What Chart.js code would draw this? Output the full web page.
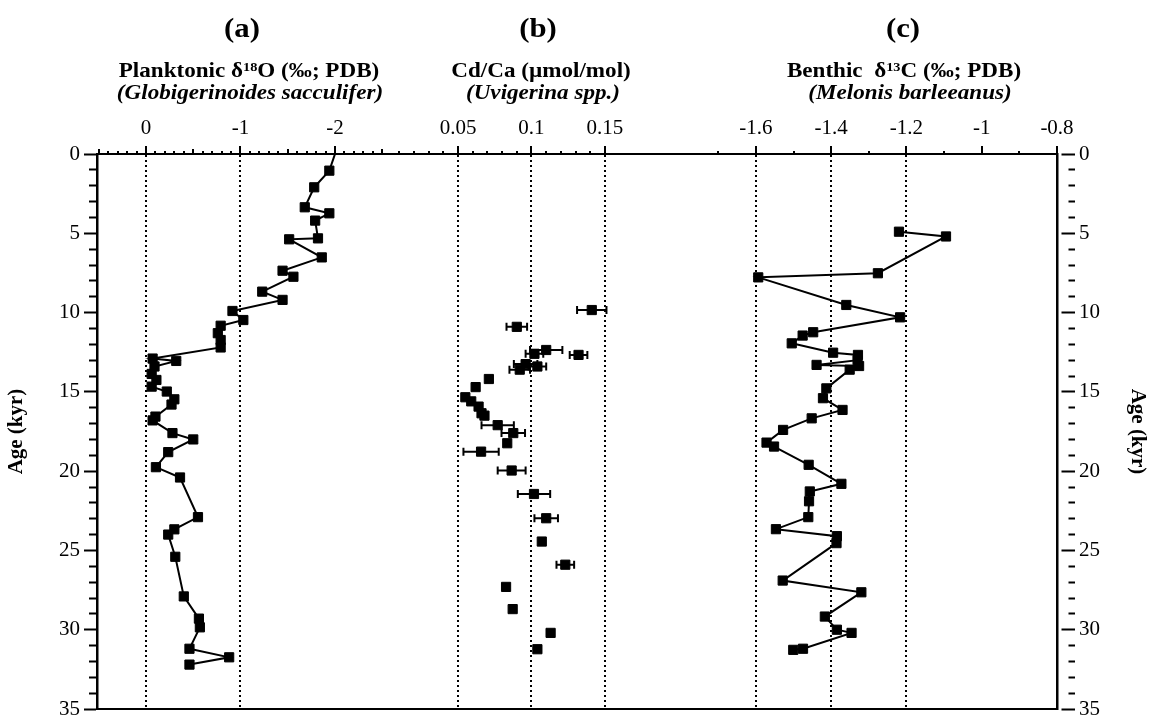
<!DOCTYPE html>
<html>
<head>
<meta charset="utf-8">
<title>Planktonic d18O, Cd/Ca and benthic d13C vs age</title>
<script src="https://cdn.jsdelivr.net/npm/chart.js@4.4.0/dist/chart.umd.min.js"></script>
<style>
  body { margin: 0; background: #fff; }
  #wrap { position: relative; width: 1151px; height: 727px; overflow: hidden;
          font-family: 'Liberation Serif', 'DejaVu Serif', serif; color: #000; }
  #wrap canvas { position: absolute; top: 0; }
  .head { position: absolute; white-space: nowrap; font-weight: bold;
          transform: translateX(-50%) scaleX(1.1); }
  .tag { top: 12px; font-size: 28px; line-height: 32px; }
  .sub { font-size: 21px; line-height: 24px; }
  .l1 { top: 58px; }
  .l2 { top: 80px; font-style: italic; }
  sup { font-size: 0.62em; vertical-align: 0.45em; line-height: 0; }
</style>
</head>
<body>
<div id="wrap">
  <canvas id="grafica-a" width="390" height="727" style="left:0px"></canvas>
  <canvas id="grafica-b" width="310" height="727" style="left:390px"></canvas>
  <canvas id="grafica-c" width="451" height="727" style="left:700px"></canvas>

  <div class="head tag" style="left:242px">(a)</div>
  <div class="head sub l1" style="left:249px">Planktonic δ<sup>18</sup>O (‰; PDB)</div>
  <div class="head sub l2" style="left:250px">(Globigerinoides sacculifer)</div>

  <div class="head tag" style="left:538px">(b)</div>
  <div class="head sub l1" style="left:541px">Cd/Ca (µmol/mol)</div>
  <div class="head sub l2" style="left:543px">(Uvigerina spp.)</div>

  <div class="head tag" style="left:903px">(c)</div>
  <div class="head sub l1" style="left:904px">Benthic&nbsp; δ<sup>13</sup>C (‰; PDB)</div>
  <div class="head sub l2" style="left:910px">(Melonis barleeanus)</div>
</div>

<script>
// (a) planktonic d18O, G. sacculifer
const ageA = [0, 1.05, 2.1, 3.36, 3.74, 4.2, 5.32, 5.38, 6.52, 7.36, 7.74, 8.68, 9.2, 9.9, 10.47,
  10.83, 11.3, 11.73, 12.2, 12.9, 13.05, 13.4, 13.87, 14.25, 14.67, 14.98, 15.47, 15.8, 16.56,
  16.8, 17.6, 18.0, 18.8, 19.75, 20.4, 22.9, 23.67, 24.0, 25.4, 27.9, 29.3, 29.85, 31.2, 31.74, 32.2];
const d18O = [-2.0, -1.94, -1.78, -1.68, -1.94, -1.79, -1.82, -1.515, -1.86, -1.445, -1.56, -1.23,
  -1.445, -0.915, -1.03, -0.79, -0.76, -0.79, -0.79, -0.07, -0.32, -0.09, -0.06, -0.11, -0.06,
  -0.22, -0.30, -0.27, -0.10, -0.07, -0.28, -0.50, -0.235, -0.105, -0.36, -0.55, -0.30, -0.235,
  -0.31, -0.40, -0.56, -0.57, -0.46, -0.88, -0.46];

// (b) Cd/Ca, Uvigerina spp. (with +/- error)
const ageB = [9.84, 10.9, 12.36, 12.6, 12.67, 13.25, 13.4, 13.6, 14.19, 14.7, 15.34, 15.6, 15.93,
  16.35, 16.5, 17.1, 17.6, 18.24, 18.77, 19.96, 21.44, 22.97, 24.44, 25.9, 27.3, 28.7, 30.2, 31.23];
const cdca = [0.141, 0.090, 0.110, 0.102, 0.132, 0.096, 0.104, 0.092, 0.071, 0.062, 0.055, 0.059,
  0.064, 0.066, 0.068, 0.077, 0.0876, 0.0835, 0.0657, 0.0865, 0.1017, 0.110, 0.107, 0.123, 0.0827,
  0.0872, 0.113, 0.104];
const errB = [0.010, 0.007, 0.011, 0.006, 0.006, 0.008, 0.006, 0.007, 0, 0, 0, 0, 0, 0, 0, 0.011,
  0.008, 0, 0.012, 0.0095, 0.011, 0.008, 0, 0.006, 0, 0, 0, 0];

// (c) benthic d13C, M. barleeanus
const ageC = [4.9, 5.2, 7.52, 7.78, 9.52, 10.3, 11.24, 11.45, 11.94, 12.53, 12.67, 13.0, 13.3,
  13.37, 13.6, 14.78, 15.4, 16.14, 16.67, 17.4, 18.2, 18.45, 19.6, 20.8, 21.28, 21.9, 22.9, 23.66,
  24.1, 24.54, 26.9, 27.64, 29.17, 30.0, 30.2, 31.2, 31.27];
const d13C = [-1.22, -1.095, -1.276, -1.594, -1.36, -1.217, -1.448, -1.476, -1.505, -1.395, -1.329,
  -1.33, -1.439, -1.326, -1.351, -1.413, -1.422, -1.37, -1.452, -1.528, -1.572, -1.552, -1.46,
  -1.373, -1.457, -1.459, -1.461, -1.547, -1.385, -1.386, -1.529, -1.32, -1.417, -1.385, -1.346,
  -1.475, -1.501];

// tick labels and dotted reference lines
const ageLabels = [0, 5, 10, 15, 20, 25, 30, 35];
const labelsA = [0, -1, -2];
const gridA = [0, -1];
const labelsB = [0.05, 0.1, 0.15];
const gridB = [0.05, 0.1, 0.15];
const labelsC = [-1.6, -1.4, -1.2, -1, -0.8];
const gridC = [-1.6, -1.4, -1.2];

Chart.defaults.font.family = "'Liberation Serif', 'DejaVu Serif', serif";
Chart.defaults.color = '#000';

function near(a, b) { return Math.abs(a - b) < 1e-6; }
function inList(v, list) { return list.some(t => near(t, v)); }
function steps(from, to, step) {
  const out = [];
  const n = Math.round((to - from) / step);
  for (let i = 0; i <= n; i++) out.push(Math.round((from + i * step) * 1000) / 1000);
  return out;
}

// all ticks share one length; shorter ones are made by dashing the outer part away
function tickDash(len, majors, majorLen, mids, midLen, shortLen) {
  const dash = s => s >= len ? [] : [0, len - s, s, 200];
  return ctx => {
    if (!ctx.tick) return [];
    const v = ctx.tick.value;
    if (inList(v, majors)) return dash(majorLen);
    return dash(inList(v, mids) ? midLen : shortLen);
  };
}

function topAxis(min, max, minor, labels, grid, mids) {
  return {
    type: 'linear',
    position: 'top',
    min: min,
    max: max,
    afterBuildTicks: s => { s.ticks = minor.map(v => ({ value: v })); },
    afterFit: s => { s.height = 40; },
    ticks: {
      autoSkip: false,
      maxRotation: 0,
      padding: 5,
      font: { size: 21 },
      callback: v => inList(v, labels) ? String(v) : ''
    },
    grid: {
      color: c => (c.tick && inList(c.tick.value, grid)) ? '#000' : 'rgba(0,0,0,0)',
      lineWidth: 2,
      tickLength: 8,
      tickColor: '#000',
      tickWidth: 2,
      tickBorderDash: tickDash(8, labels, 8, mids, 5, 3)
    },
    border: { display: true, color: '#000', width: 2, dash: [2, 3] }
  };
}

function ageAxis(pos) {
  const left = pos === 'left';
  const len = left ? 13 : 18;
  return {
    type: 'linear',
    position: pos,
    display: pos !== 'none',
    reverse: true,
    min: 0,
    max: 35,
    afterBuildTicks: s => { s.ticks = steps(0, 35, 1).map(v => ({ value: v })); },
    afterFit: s => { s.width = left ? 97 : 94; },
    ticks: {
      autoSkip: false,
      padding: 4,
      font: { size: 21 },
      callback: v => inList(v, ageLabels) ? String(v) : ''
    },
    grid: {
      drawOnChartArea: false,
      tickLength: len,
      tickColor: '#000',
      tickWidth: 2,
      tickBorderDash: tickDash(len, ageLabels, left ? 13 : 15, [], 7, 8)
    },
    border: { display: true, color: '#000', width: 2.5 },
    title: {
      display: true,
      text: 'Age (kyr)',
      font: { size: 21, weight: 'bold' },
      padding: { top: left ? 4 : 1, bottom: 0 }
    }
  };
}

function bottomLine() {
  return {
    type: 'linear',
    position: 'bottom',
    ticks: { display: false },
    grid: { display: false },
    border: { display: true, color: '#000', width: 2 },
    afterFit: s => { s.height = 18; }
  };
}

// horizontal analytical error bars for panel (b)
const errorBars = {
  id: 'errorBars',
  beforeDatasetsDraw(chart, args, opts) {
    if (!opts.errors) return;
    const { ctx, scales } = chart;
    const x = scales.x, y = scales.y;
    ctx.save();
    ctx.strokeStyle = '#000';
    ctx.lineWidth = 2;
    opts.errors.forEach((e, i) => {
      if (!e) return;
      const py = y.getPixelForValue(opts.ages[i]);
      const x1 = x.getPixelForValue(opts.values[i] - e);
      const x2 = x.getPixelForValue(opts.values[i] + e);
      ctx.beginPath();
      ctx.moveTo(x1, py); ctx.lineTo(x2, py);
      ctx.moveTo(x1, py - 4); ctx.lineTo(x1, py + 4);
      ctx.moveTo(x2, py - 4); ctx.lineTo(x2, py + 4);
      ctx.stroke();
    });
    ctx.restore();
  }
};

function baseOptions(scales, extraPlugins) {
  return {
    responsive: false,
    animation: false,
    events: [],
    layout: { autoPadding: false, padding: { top: 114, left: 0, right: 0, bottom: 0 } },
    scales: scales,
    plugins: Object.assign({ legend: { display: false }, tooltip: { enabled: false } }, extraPlugins || {})
  };
}

const pointStyle = {
  pointStyle: 'rect',
  pointBackgroundColor: '#000',
  pointBorderColor: '#000',
  pointBorderWidth: 1
};

// panel (a): values grow more negative to the right
new Chart(document.getElementById('grafica-a').getContext('2d'), {
  type: 'line',
  data: {
    datasets: [Object.assign({
      label: 'Planktonic d18O',
      data: ageA.map((a, i) => ({ x: d18O[i], y: a })),
      borderColor: '#000',
      borderWidth: 2,
      tension: 0,
      pointRadius: c => c.dataIndex === 0 ? 0 : 6.5,
      xAxisID: 'x',
      yAxisID: 'y'
    }, pointStyle)]
  },
  options: baseOptions({
    x: Object.assign(topAxis(-2.582, 0.5185, steps(-2.5, 0.5, 0.1), labelsA, gridA, [-0.5, -1.5, -2.5, 0.5]), { reverse: true }),
    y: ageAxis('left'),
    xb: bottomLine()
  })
});

// panel (b)
new Chart(document.getElementById('grafica-b').getContext('2d'), {
  type: 'scatter',
  data: {
    datasets: [Object.assign({
      label: 'Cd/Ca',
      data: ageB.map((a, i) => ({ x: cdca[i], y: a })),
      pointRadius: 6.5,
      xAxisID: 'x',
      yAxisID: 'y'
    }, pointStyle)]
  },
  options: baseOptions({
    x: topAxis(0.00374, 0.21463, steps(0.01, 0.15, 0.01), labelsB, gridB, []),
    y: ageAxis('none'),
    xb: bottomLine()
  }, { errorBars: { ages: ageB, values: cdca, errors: errB } }),
  plugins: [errorBars]
});

// panel (c)
new Chart(document.getElementById('grafica-c').getContext('2d'), {
  type: 'line',
  data: {
    datasets: [Object.assign({
      label: 'Benthic d13C',
      data: ageC.map((a, i) => ({ x: d13C[i], y: a })),
      borderColor: '#000',
      borderWidth: 2,
      tension: 0,
      pointRadius: 6.5,
      xAxisID: 'x',
      yAxisID: 'y'
    }, pointStyle)]
  },
  options: baseOptions({
    x: topAxis(-1.7488, -0.8, steps(-1.7, -0.8, 0.1), labelsC, gridC, []),
    y: ageAxis('right'),
    xb: bottomLine()
  })
});
</script>
</body>
</html>
